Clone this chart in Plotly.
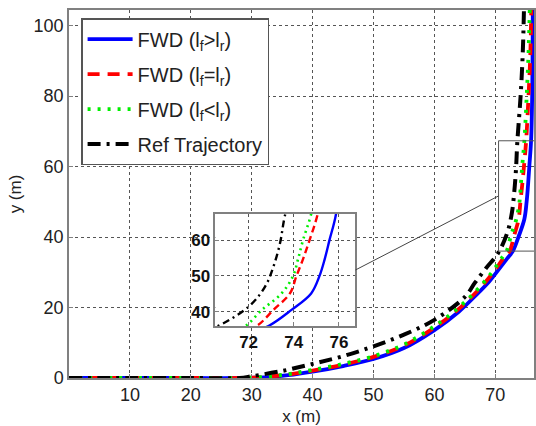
import plotly.graph_objects as go

# ---------------- data ----------------
fwd_gt_x = [0, 10, 20, 28, 32, 36, 40, 45, 50, 55, 60, 64, 67, 69, 70.6, 71.9, 72.88, 73.9, 74.77, 75.14, 75.37, 75.58, 75.87, 76.05, 76.15]
fwd_gt_y = [0, 0, 0, 0, 0.2, 0.8, 1.8, 3.4, 5.4, 8.5, 13.6, 18.8, 23.8, 27.4, 30.9, 33.8, 36, 40.5, 45.1, 50, 54.7, 60, 67.3, 80, 104.4]

fwd_eq_x = [0, 10, 20, 28, 32, 36, 40, 45, 50, 55, 60, 64, 67, 69, 70.6, 71.6, 72.35, 73.1, 73.83, 74.12, 74.41, 74.7, 75.06, 75.45, 75.75, 75.9]
fwd_eq_y = [0, 0, 0, 0, 0.3, 1.0, 2.1, 3.8, 6.0, 9.2, 14.3, 19.6, 24.6, 28.5, 32.2, 34.6, 36, 40.5, 45.1, 50, 54.7, 60, 67.3, 80, 92, 104.4]

fwd_lt_x = [0, 10, 20, 28, 32, 36, 40, 45, 50, 55, 60, 64, 67, 69, 70.5, 71.3, 71.86, 72.59, 73.46, 73.97, 74.19, 74.41, 74.77, 75.15, 75.45, 75.65]
fwd_lt_y = [0, 0, 0, 0, 0.3, 1.1, 2.3, 4.0, 6.2, 9.5, 14.7, 20, 25, 29, 32.6, 34.6, 36, 40.5, 45.1, 50, 54.7, 60, 67.3, 80, 92, 104.4]

ref_x = [0, 10, 20, 28, 30, 35, 40, 45, 50, 55, 60, 65, 66.6, 68.5, 70.45, 72.0, 72.73, 73.1, 73.39, 73.6, 74.15, 74.5, 74.7]
ref_y = [0, 0, 0, 0, 0.5, 2.0, 4.0, 6.2, 9.0, 12.3, 16.5, 23.0, 26.9, 31.2, 35.4, 41.4, 47, 52.6, 59.1, 66.6, 80, 92, 104.4]

names = ["FWD (l<sub>f</sub>&gt;l<sub>r</sub>)",
         "FWD (l<sub>f</sub>=l<sub>r</sub>)",
         "FWD (l<sub>f</sub>&lt;l<sub>r</sub>)",
         "Ref Trajectory"]

main_xticks = [10, 20, 30, 40, 50, 60, 70]
main_yticks = [0, 20, 40, 60, 80, 100]
inset_xticks = [72, 74, 76]
inset_yticks = [40, 50, 60]

main_xrange = [0, 76.35]
main_yrange = [0, 104.4]
inset_xrange = [70.53, 76.73]
inset_yrange = [36, 67.3]

# ---------------- styling ----------------
SM = 1.0
styles = [
    dict(color="#0000FF", dash="solid", width=3.8, shape="spline", smoothing=SM),
    dict(color="#FF0000", dash="12px,8px", width=3.8, shape="spline", smoothing=SM),
    dict(color="#00EE00", dash="3px,7px", width=3.8, shape="spline", smoothing=SM),
    dict(color="#000000", dash="13px,6px,3px,6px", width=4, shape="spline", smoothing=SM),
]
inset_styles = [
    dict(color="#0000FF", dash="solid", width=2.4, shape="spline", smoothing=SM),
    dict(color="#FF0000", dash="7px,4px", width=2.4, shape="spline", smoothing=SM),
    dict(color="#00EE00", dash="2px,4px", width=2.6, shape="spline", smoothing=SM),
    dict(color="#000000", dash="7px,4px,2px,4px", width=2.4, shape="spline", smoothing=SM),
]

FONT = "Liberation Sans, Arial, sans-serif"
GRID = "#555555"
FRAME = "#808080"

series = [(fwd_gt_x, fwd_gt_y), (fwd_eq_x, fwd_eq_y), (fwd_lt_x, fwd_lt_y), (ref_x, ref_y)]

fig = go.Figure()
for i, ((xs, ys), nm) in enumerate(zip(series, names)):
    fig.add_trace(go.Scatter(x=xs, y=ys, mode="lines", name=nm,
                             line=styles[i], legendgroup=f"g{i}",
                             xaxis="x", yaxis="y"))
for i, (xs, ys) in enumerate(series):
    fig.add_trace(go.Scatter(x=xs, y=ys, mode="lines", showlegend=False,
                             line=inset_styles[i], xaxis="x2", yaxis="y2"))

inset_dom_x = [0.3148, 0.616]
inset_dom_y = [0.1413, 0.4457]

axis_common = dict(showgrid=True, griddash="dot", gridcolor=GRID, gridwidth=1,
                   showline=True, mirror=True, linecolor=FRAME, linewidth=1.5,
                   ticks="inside", ticklen=4, tickcolor=FRAME, zeroline=False)

fig.update_layout(
    width=536, height=426,
    margin=dict(l=69, r=0, t=10, b=48),
    paper_bgcolor="white", plot_bgcolor="white",
    font=dict(family=FONT, color="#222222", size=18),
    xaxis=dict(domain=[0, 1], range=main_xrange, tickvals=main_xticks,
               tickfont=dict(size=18), title=dict(text="x (m)", font=dict(size=17), standoff=6),
               **axis_common),
    yaxis=dict(domain=[0, 1], range=main_yrange, tickvals=main_yticks,
               tickfont=dict(size=18), title=dict(text="y (m)", font=dict(size=17), standoff=8),
               **axis_common),
    xaxis2=dict(domain=inset_dom_x, range=inset_xrange, tickvals=inset_xticks, anchor="y2",
                tickfont=dict(size=17, weight="bold", color="#111"), **axis_common),
    yaxis2=dict(domain=inset_dom_y, range=inset_yrange, tickvals=inset_yticks, anchor="x2",
                tickfont=dict(size=17, weight="bold", color="#111"), **axis_common),
    legend=dict(x=0.026, y=0.978, xanchor="left", yanchor="top",
                bgcolor="white", bordercolor="#555555", borderwidth=1.5,
                font=dict(size=20, family=FONT, color="#222"),
                tracegroupgap=6, itemwidth=45),
    showlegend=True,
)

# white background for the inset (drawn above the main subplot, below inset grid)
fig.add_shape(type="rect", xref="x2 domain", yref="y2 domain", x0=0, x1=1, y0=0, y1=1,
              fillcolor="white", line=dict(width=0), layer="below")

# zoom rectangle on main axes
fig.add_shape(type="rect", xref="x", yref="y",
              x0=inset_xrange[0], x1=inset_xrange[1], y0=inset_yrange[0], y1=inset_yrange[1],
              line=dict(color="#555555", width=1))

# connector line (inset right edge -> zoom rect left edge), both at mid-height of zoom window
ymid = (inset_yrange[0] + inset_yrange[1]) / 2
p_inset_x = inset_dom_x[1]
p_inset_y = inset_dom_y[0] + (ymid - inset_yrange[0]) / (inset_yrange[1] - inset_yrange[0]) * (inset_dom_y[1] - inset_dom_y[0])
p_main_x = (inset_xrange[0] - main_xrange[0]) / (main_xrange[1] - main_xrange[0])
p_main_y = (ymid - main_yrange[0]) / (main_yrange[1] - main_yrange[0])
fig.add_shape(type="line", xref="paper", yref="paper",
              x0=p_inset_x, y0=p_inset_y, x1=p_main_x, y1=p_main_y,
              line=dict(color="#444444", width=1))

fig.write_html("out.html")
